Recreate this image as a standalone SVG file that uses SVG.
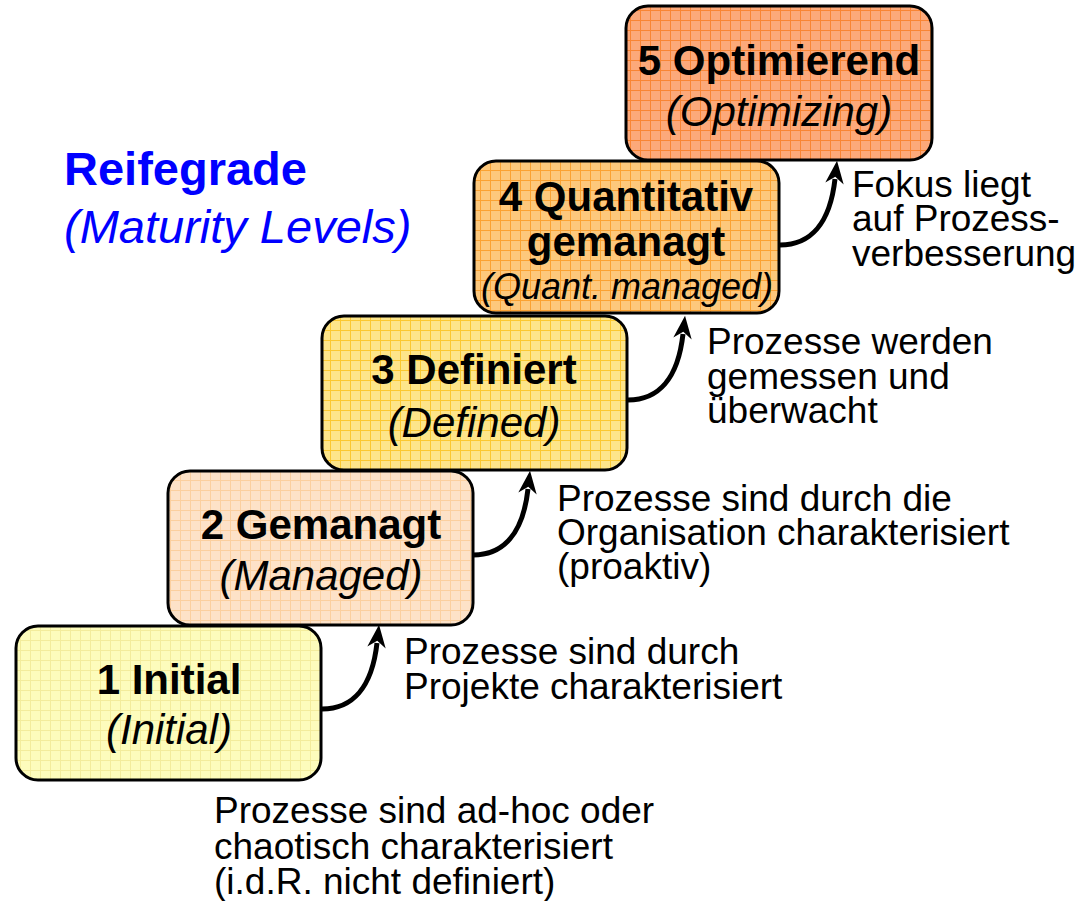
<svg xmlns="http://www.w3.org/2000/svg" width="1079" height="901" viewBox="0 0 1079 901">
<style>
text{font-family:'Liberation Sans',Arimo,Arial,Helvetica,sans-serif}
.box{stroke:#000;stroke-width:3}
.t{font-weight:bold;font-size:42px;text-anchor:middle;fill:#000}
.s{font-style:italic;font-size:42px;text-anchor:middle;fill:#000}
.s2{font-style:italic;font-size:36px;text-anchor:middle;fill:#000}
.d{font-size:37px;fill:#000}
.h{font-size:47px;fill:#0000ff}
.arr{fill:none;stroke:#000;stroke-width:5}
</style>
<defs>
<pattern id="p1" width="10" height="10" patternUnits="userSpaceOnUse"><rect width="10" height="10" fill="#fdfcbc"/><path d="M0,0.5H10M0.5,0V10" stroke="#f3ec9c" stroke-width="1"/></pattern>
<pattern id="p2" width="10" height="10" patternUnits="userSpaceOnUse"><rect width="10" height="10" fill="#fde2c8"/><path d="M0,0.5H10M0.5,0V10" stroke="#fbcf9f" stroke-width="1"/></pattern>
<pattern id="p3" width="10" height="10" patternUnits="userSpaceOnUse"><rect width="10" height="10" fill="#fde58a"/><path d="M0,0.5H10M0.5,0V10" stroke="#fbc830" stroke-width="1"/></pattern>
<pattern id="p4" width="10" height="10" patternUnits="userSpaceOnUse"><rect width="10" height="10" fill="#fdc87c"/><path d="M0,0.5H10M0.5,0V10" stroke="#fba232" stroke-width="1"/></pattern>
<pattern id="p5" width="10" height="10" patternUnits="userSpaceOnUse"><rect width="10" height="10" fill="#fca97a"/><path d="M0,0.5H10M0.5,0V10" stroke="#f98534" stroke-width="1"/></pattern>
<marker id="ah" markerUnits="userSpaceOnUse" markerWidth="30" markerHeight="30" refX="0" refY="0" viewBox="-4 -12 26 24" orient="auto" overflow="visible">
<path d="M16,0 L-4,-8 L2,0 L-4,8 Z" fill="#000"/>
</marker>
</defs>
<rect width="1079" height="901" fill="#fff"/>
<g id="title">
<text class="h" x="64" y="185" font-weight="bold">Reifegrade</text>
<text class="h" x="64" y="243" font-style="italic">(Maturity Levels)</text>
</g>
<g id="level5">
<rect class="box" x="626" y="6" width="306" height="154" rx="22" fill="url(#p5)"/>
<text class="t" x="779" y="75">5 Optimierend</text>
<text class="s" x="779" y="126">(Optimizing)</text>
</g>
<g id="level4">
<rect class="box" x="474" y="161" width="305" height="152" rx="22" fill="url(#p4)"/>
<text class="t" x="626" y="211">4 Quantitativ</text>
<text class="t" x="626" y="256">gemanagt</text>
<text class="s2" x="627" y="299">(Quant. managed)</text>
</g>
<g id="level3">
<rect class="box" x="322" y="316" width="305" height="154" rx="22" fill="url(#p3)"/>
<text class="t" x="474" y="384">3 Definiert</text>
<text class="s" x="474" y="437">(Defined)</text>
</g>
<g id="level2">
<rect class="box" x="168" y="471" width="305" height="154" rx="22" fill="url(#p2)"/>
<text class="t" x="321" y="539">2 Gemanagt</text>
<text class="s" x="321" y="590">(Managed)</text>
</g>
<g id="level1">
<rect class="box" x="16" y="626" width="305" height="154" rx="22" fill="url(#p1)"/>
<text class="t" x="169" y="694">1 Initial</text>
<text class="s" x="169" y="744">(Initial)</text>
</g>
<g id="connectors">
<path class="arr" d="M322,709 C352,709 372,688 377,643" marker-end="url(#ah)"/>
<path class="arr" d="M473,555 C503,555 523,534 528,489" marker-end="url(#ah)"/>
<path class="arr" d="M628,400 C658,400 678,379 683,334" marker-end="url(#ah)"/>
<path class="arr" d="M780,245 C810,245 830,224 835,179" marker-end="url(#ah)"/>
</g>
<g id="desc1">
<text class="d" x="214" y="823">Prozesse sind ad-hoc oder</text>
<text class="d" x="214" y="859">chaotisch charakterisiert</text>
<text class="d" x="214" y="894">(i.d.R. nicht definiert)</text>
</g>
<g id="desc2">
<text class="d" x="404" y="664">Prozesse sind durch</text>
<text class="d" x="404" y="699">Projekte charakterisiert</text>
</g>
<g id="desc3">
<text class="d" x="557" y="511">Prozesse sind durch die</text>
<text class="d" x="557" y="545">Organisation charakterisiert</text>
<text class="d" x="557" y="579">(proaktiv)</text>
</g>
<g id="desc4">
<text class="d" x="707" y="354">Prozesse werden</text>
<text class="d" x="707" y="389">gemessen und</text>
<text class="d" x="707" y="423">überwacht</text>
</g>
<g id="desc5">
<text class="d" x="852" y="197">Fokus liegt</text>
<text class="d" x="852" y="231">auf Prozess-</text>
<text class="d" x="852" y="266">verbesserung</text>
</g>
</svg>
